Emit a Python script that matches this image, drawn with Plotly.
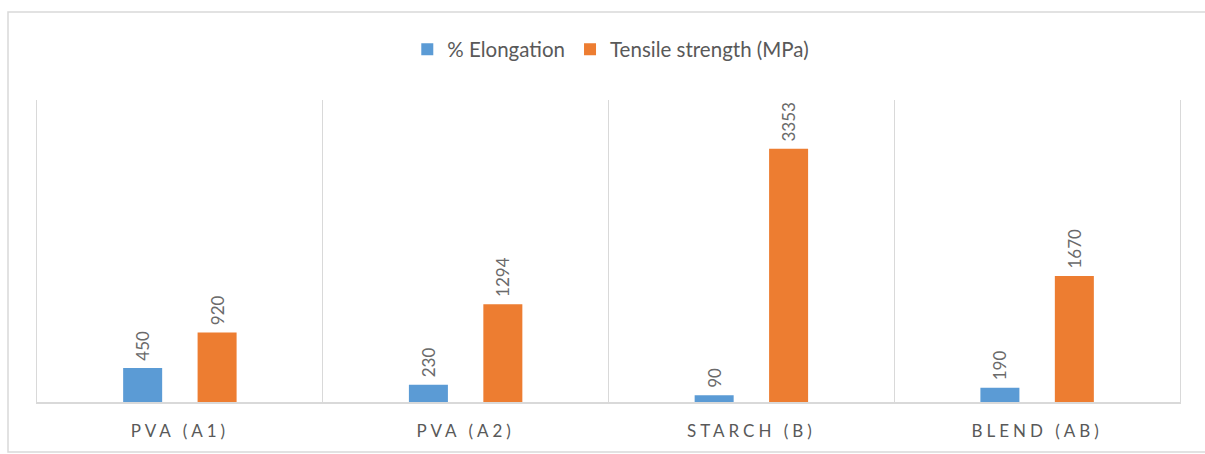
import plotly.graph_objects as go

categories = ["PVA (A1)", "PVA (A2)", "STARCH (B)", "BLEND (AB)"]
elongation = [450, 230, 90, 190]
tensile = [920, 1294, 3353, 1670]
series_names = ["% Elongation", "Tensile strength (MPa)"]
colors = ["#5B9BD5", "#ED7D31"]

FONT = "Lato, Open Sans, sans-serif"
GRAY = "#595959"
LINE = "#D9D9D9"

fig = go.Figure()
for name, vals, col in zip(series_names, [elongation, tensile], colors):
    fig.add_trace(go.Bar(
        x=categories, y=vals, name=name, marker=dict(color=col, line=dict(width=0)),
        text=[f"\u00a0{v}" for v in vals], textposition="outside", textangle=-90,
        constraintext="none",
        textfont=dict(family=FONT, size=17, color="#6a6a6a"), cliponaxis=False,
    ))

fig.update_layout(
    width=1205, height=454,
    margin=dict(l=37, r=25, t=100, b=52),
    paper_bgcolor="white", plot_bgcolor="white",
    barmode="group", bargap=0.479, bargroupgap=0.476,
    font=dict(family=FONT, color=GRAY),
    legend=dict(orientation="h", x=0.502, xanchor="center", y=0.935, yref="container",
                yanchor="top", font=dict(size=20.5, color=GRAY), itemwidth=30,
                traceorder="normal"),
    showlegend=True,
    shapes=[dict(type="rect", xref="paper", yref="paper",
                 x0=-29/1143, x1=1.05, y0=-50/302, y1=1 + 88/302,
                 line=dict(color=LINE, width=1.5), layer="below")],
)
fig.update_xaxes(type="category", tickson="boundaries", showgrid=True, gridcolor=LINE,
                 gridwidth=1, showline=True, linecolor=LINE, linewidth=1.5, ticks="",
                 ticklabelstandoff=13,
                 tickfont=dict(family=FONT, size=17, color=GRAY))
fig.update_yaxes(range=[0, 4000], showgrid=False, showticklabels=False, zeroline=False,
                 showline=True, mirror=True, linecolor=LINE, linewidth=1)

post = """
var s=document.createElement('style');
s.innerHTML='.xtick text{letter-spacing:4px;} .bars .textpoint text{letter-spacing:1.5px;}';
document.head.appendChild(s);
"""
fig.write_html("out.html", post_script=post)
